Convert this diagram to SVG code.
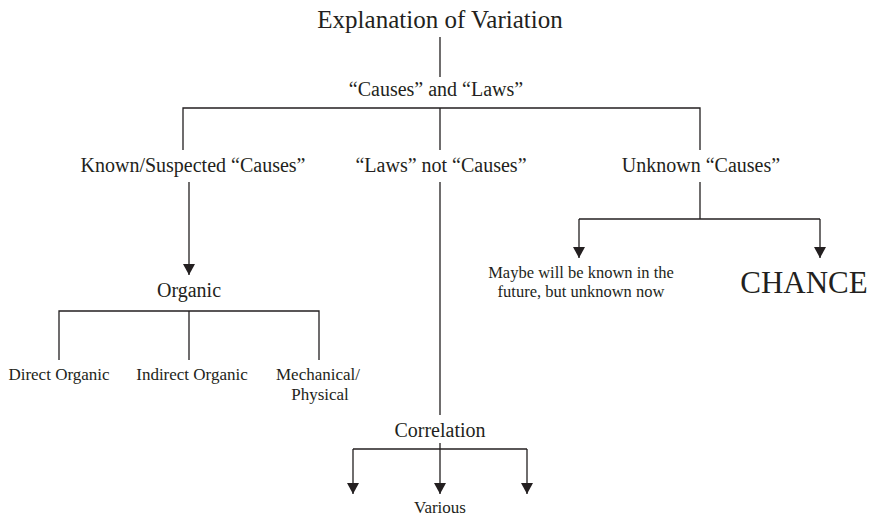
<svg xmlns="http://www.w3.org/2000/svg" width="875" height="522" viewBox="0 0 875 522">
<defs>
<style>
text{font-family:"Liberation Serif","Times New Roman",serif;fill:#231f20;text-anchor:middle}
.ln{stroke:#231f20;stroke-width:1.3;fill:none}
.t1{font-size:25px}
.t2{font-size:20px}
.t3{font-size:17px}
.t4{font-size:16.5px}
.t5{font-size:17px}
.big{font-size:31px}
</style>
<marker id="ar" viewBox="0 0 11 12" refX="11" refY="6" markerWidth="11" markerHeight="12" markerUnits="userSpaceOnUse" orient="auto">
<path d="M0 0 L11 6 L0 12 Z" fill="#231f20"/>
</marker>
</defs>
<rect width="875" height="522" fill="#fff"/>
<g id="connectors">
<path class="ln" d="M440 37 V77"/>
<path class="ln" d="M183 150 V108 H700 V150 M440 108 V150"/>
<path class="ln" d="M189 182 V275" marker-end="url(#ar)"/>
<path class="ln" d="M440 182 V415"/>
<path class="ln" d="M700 182 V219"/>
<path class="ln" d="M579 219 H820"/>
<path class="ln" d="M579 219 V258" marker-end="url(#ar)"/>
<path class="ln" d="M820 219 V258" marker-end="url(#ar)"/>
<path class="ln" d="M59 360 V311 H319 V360 M189 311 V360"/>
<path class="ln" d="M353 449 H527"/>
<path class="ln" d="M353 449 V494" marker-end="url(#ar)"/>
<path class="ln" d="M440 443 V494" marker-end="url(#ar)"/>
<path class="ln" d="M527 449 V494" marker-end="url(#ar)"/>
</g>
<g id="n-title"><text class="t1" x="440" y="28">Explanation of Variation</text></g>
<g id="n-causes-laws"><text class="t2" x="436" y="96">“Causes” and “Laws”</text></g>
<g id="n-known"><text class="t2" x="193" y="172">Known/Suspected “Causes”</text></g>
<g id="n-laws"><text class="t2" x="441" y="172">“Laws” not “Causes”</text></g>
<g id="n-unknown"><text class="t2" x="701" y="172">Unknown “Causes”</text></g>
<g id="n-maybe"><text class="t4" x="581" y="278">Maybe will be known in the</text><text class="t4" x="581" y="297">future, but unknown now</text></g>
<g id="n-chance"><text class="big" x="804" y="293">CHANCE</text></g>
<g id="n-organic"><text class="t2" x="189" y="297">Organic</text></g>
<g id="n-direct"><text class="t3" x="59" y="380">Direct Organic</text></g>
<g id="n-indirect"><text class="t3" x="192" y="380">Indirect Organic</text></g>
<g id="n-mech"><text class="t3" x="318" y="380">Mechanical/</text><text class="t3" x="320" y="400">Physical</text></g>
<g id="n-correlation"><text class="t2" x="440" y="437">Correlation</text></g>
<g id="n-various"><text class="t5" x="440" y="513">Various</text></g>
</svg>
